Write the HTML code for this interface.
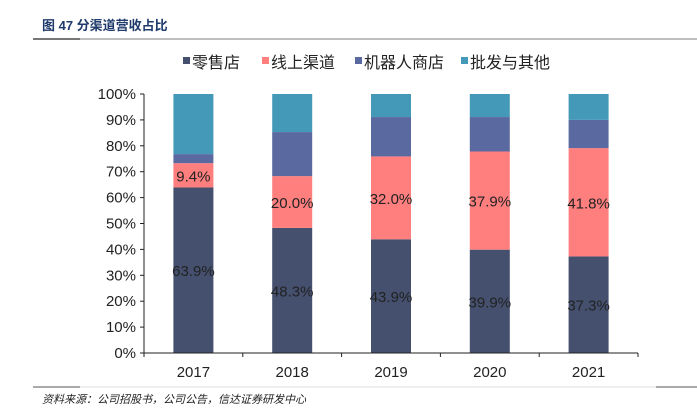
<!DOCTYPE html>
<html><head><meta charset="utf-8"><style>
body{margin:0;background:#fff;width:697px;height:410px;overflow:hidden;font-family:"Liberation Sans","Noto Sans CJK SC",sans-serif}
</style></head><body>
<svg width="697" height="410" xmlns="http://www.w3.org/2000/svg">
<text x="42" y="30" font-size="13" font-weight="bold" fill="#1f3a6b" font-family="'Liberation Sans','Noto Sans CJK SC',sans-serif">图 47  分渠道营收占比</text>
<line x1="33" y1="39" x2="697" y2="39" stroke="#aaa" stroke-width="1.5"/>
<line x1="33" y1="39" x2="80" y2="39" stroke="#777" stroke-width="2"/>
<g id="legend" font-size="16" fill="#222"></g>
<g id="plot"></g>
<line x1="33" y1="387" x2="697" y2="387" stroke="#ddd" stroke-width="1"/>
<line x1="33" y1="387" x2="80" y2="387" stroke="#555" stroke-width="1"/>
<line x1="656" y1="387" x2="697" y2="387" stroke="#555" stroke-width="1"/>
<text x="42" y="403" font-size="11" font-style="italic" fill="#222">资料来源：公司招股书，公司公告，信达证券研发中心</text>
</svg>
<script>
const categories=["2017","2018","2019","2020","2021"];
const retail=[63.9,48.3,43.9,39.9,37.3];
const online=[9.4,20.0,32.0,37.9,41.8];
const robot=[3.5,17.0,15.2,13.3,10.9];
const wholesale=[23.2,14.7,8.9,8.9,10.0];
const seriesNames=["零售店","线上渠道","机器人商店","批发与其他"];
const colors=["#44506e","#ff7f7f","#5a6aa0","#4499b8"];
const yTicks=[0,10,20,30,40,50,60,70,80,90,100];
const NS="http://www.w3.org/2000/svg";
const x0=144,x1=638,yb=353,yt=94;
const bw=(x1-x0)/categories.length;
const y=v=>yb-(yb-yt)*v/100;
const xc=i=>x0+bw*(i+0.5);
function mk(t,a,p){const e=document.createElementNS(NS,t);for(const k in a)e.setAttribute(k,a[k]);p.appendChild(e);return e;}
const plot=document.getElementById('plot');
const series=[retail,online,robot,wholesale];
categories.forEach((c,i)=>{
  let acc=0;
  series.forEach((s,j)=>{
    const r=mk('rect',{x:xc(i)-20,y:y(acc+s[i]),width:40,height:y(acc)-y(acc+s[i]),fill:colors[j]},plot);
    
    
    if(j<2){const t=mk('text',{x:xc(i),y:(y(acc)+y(acc+s[i]))/2+6,'text-anchor':'middle','font-size':15,fill:'#222'},plot);t.textContent=s[i].toFixed(1)+'%';
    
    }
    acc+=s[i];
  });
  const l=mk('text',{x:xc(i),y:377,'text-anchor':'middle','font-size':15,fill:'#222'},plot);l.textContent=c;
  
  
});
mk('line',{x1:x0,y1:yt,x2:x0,y2:yb,stroke:'#222'},plot);
mk('line',{x1:x0,y1:yb,x2:x1,y2:yb,stroke:'#222'},plot);
yTicks.forEach(v=>{mk('line',{x1:x0-4,y1:y(v),x2:x0,y2:y(v),stroke:'#222'},plot);
  const t=mk('text',{x:x0-8,y:y(v)+5,'text-anchor':'end','font-size':15,fill:'#222'},plot);t.textContent=v+'%';
  
  });
for(let i=0;i<=categories.length;i++)mk('line',{x1:x0+bw*i,y1:yb,x2:x0+bw*i,y2:yb+4,stroke:'#222'},plot);
const lg=document.getElementById('legend');const lx=[183,262,355,461];
seriesNames.forEach((n,j)=>{mk('rect',{x:lx[j],y:57,width:7,height:7,fill:colors[j]},lg);
  const t=mk('text',{x:lx[j]+9,y:68},lg);t.textContent=n;
  
  });
</script>
</body></html>
